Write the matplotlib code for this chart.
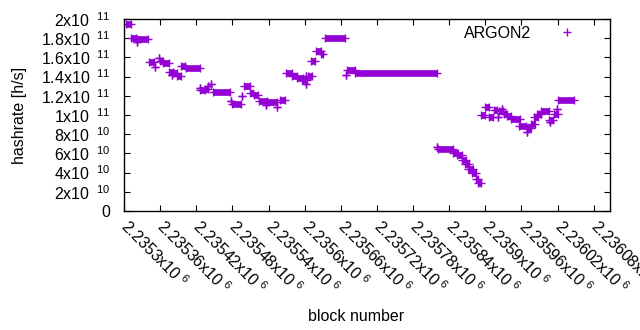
import matplotlib
matplotlib.use("Agg")
import matplotlib.pyplot as plt

plt.rcParams['font.family'] = ['Liberation Sans', 'DejaVu Sans']
plt.rcParams['mathtext.default'] = 'regular'

# runs of blocks with the same hashrate (GH/s); start == end means a single block
block_start = [2235304, 2235312, 2235321, 2235322, 2235341, 2235352, 2235358, 2235360,
               2235365, 2235375, 2235380, 2235383, 2235388, 2235395, 2235403, 2235426,
               2235426, 2235435, 2235440, 2235444, 2235447, 2235477, 2235480, 2235496,
               2235500, 2235510, 2235516, 2235524, 2235535, 2235537, 2235554, 2235559,
               2235569, 2235579, 2235587, 2235596, 2235602, 2235603, 2235606, 2235610,
               2235618, 2235627, 2235634, 2235669, 2235671, 2235684, 2235820, 2235822,
               2235846, 2235853, 2235861, 2235866, 2235871, 2235878, 2235884, 2235888,
               2235892, 2235899, 2235906, 2235914, 2235921, 2235922, 2235927, 2235931,
               2235936, 2235943, 2235956, 2235969, 2235969, 2235976, 2235981, 2235985,
               2235993, 2236007, 2236006, 2236014, 2236019, 2236021]
block_end = [2235312, 2235320, 2235321, 2235340, 2235350, 2235352, 2235358, 2235365,
             2235374, 2235382, 2235380, 2235388, 2235394, 2235402, 2235426, 2235426,
             2235434, 2235440, 2235440, 2235444, 2235476, 2235477, 2235494, 2235496,
             2235509, 2235515, 2235523, 2235537, 2235535, 2235554, 2235554, 2235568,
             2235579, 2235587, 2235597, 2235604, 2235602, 2235603, 2235612, 2235617,
             2235627, 2235631, 2235667, 2235669, 2235684, 2235819, 2235820, 2235846,
             2235854, 2235862, 2235868, 2235873, 2235879, 2235884, 2235888, 2235892,
             2235899, 2235906, 2235913, 2235920, 2235921, 2235930, 2235927, 2235936,
             2235943, 2235957, 2235968, 2235969, 2235975, 2235982, 2235988, 2235993,
             2236006, 2236007, 2236013, 2236020, 2236019, 2236048]
rate_ghs = [194.5, 180.5, 176.0, 179.0, 155.6, 150.5, 159.0, 155.8,
            154.5, 145.3, 141.7, 144.0, 140.5, 150.8, 148.7, 128.4,
            126.0, 126.8, 130.0, 132.3, 124.0, 114.6, 111.1, 119.5,
            130.0, 122.4, 121.2, 114.5, 110.0, 113.3, 108.8, 116.0,
            143.5, 140.6, 138.3, 136.2, 141.0, 132.0, 140.5, 156.0,
            166.2, 163.5, 179.7, 141.7, 147.2, 143.6, 67.0, 64.3,
            60.5, 58.2, 53.1, 48.6, 44.0, 39.3, 33.5, 29.3,
            99.8, 108.8, 98.4, 104.9, 98.2, 103.8, 106.5, 100.7,
            99.0, 95.8, 88.3, 81.8, 86.5, 90.5, 97.6, 100.6,
            103.8, 92.7, 94.5, 100.8, 106.6, 115.3]

x_ticks = [2235300 + 60 * i for i in range(14)]
x_labels = ['2.2353', '2.23536', '2.23542', '2.23548', '2.23554', '2.2356', '2.23566',
            '2.23572', '2.23578', '2.23584', '2.2359', '2.23596', '2.23602', '2.23608']
y_ticks = [0, 2e10, 4e10, 6e10, 8e10, 1e11, 1.2e11, 1.4e11, 1.6e11, 1.8e11, 2e11]
y_mant = ['0', '2', '4', '6', '8', '1', '1.2', '1.4', '1.6', '1.8', '2']
y_exp = [None, 10, 10, 10, 10, 11, 11, 11, 11, 11, 11]


def sci(m, e, gap='\\enspace\\,'):
    if e is None:
        return m
    return m + 'x10$^{' + gap + str(e) + '}$'


color = '#9400d3'
rate = [r * 1e9 for r in rate_ghs]

fig = plt.figure(figsize=(6.4, 3.3), dpi=100)
ax = fig.add_axes([124 / 640, 119 / 330, 486 / 640, 192 / 330])

ax.hlines(rate, block_start, block_end, colors=color, linewidth=4.8, capstyle='butt')
ax.plot(block_start, rate, '+', color=color, ms=5.5, mew=1.0, label='ARGON2')
ax.plot(block_end, rate, '+', color=color, ms=5.5, mew=1.0)

ax.set_xlim(2235300, 2236107)
ax.set_ylim(0, 2e11)
ax.set_xticks(x_ticks)
ax.set_xticklabels([sci(s, 6, '\\ ') for s in x_labels], rotation=-45, ha='left',
                   va='center', rotation_mode='anchor')
ax.set_yticks(y_ticks)
ax.set_yticklabels([sci(m, e) for m, e in zip(y_mant, y_exp)])
ax.tick_params(direction='in', length=4, top=True, right=True, labelsize=11.5)
ax.tick_params(axis='x', pad=9)
ax.tick_params(axis='y', pad=10)
for s in ax.spines.values():
    s.set_linewidth(1.0)

ax.set_xlabel('block number', fontsize=11.5)
ax.set_ylabel('hashrate [h/s]', fontsize=11.5)
ax.xaxis.set_label_coords(0.477, -0.51)
ax.yaxis.set_label_coords(-0.199, 0.5)

ax.legend(loc='upper right', frameon=False, markerfirst=False, fontsize=11.5,
          handlelength=1.5, handletextpad=1.45, borderaxespad=0.2,
          bbox_to_anchor=(0.955, 1.016))

fig.savefig('out.png', dpi=100)
